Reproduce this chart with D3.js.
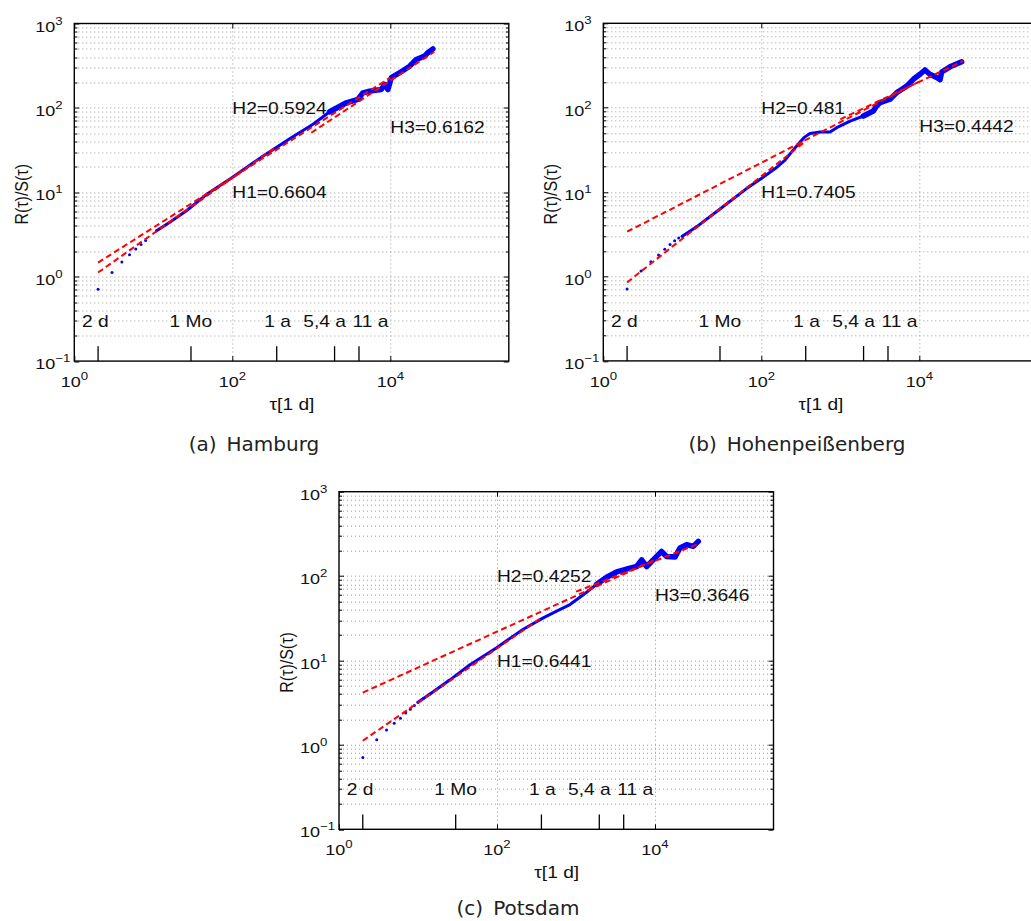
<!DOCTYPE html>
<html>
<head>
<meta charset="utf-8">
<script src="https://cdn.jsdelivr.net/npm/d3@7"></script>
<style>
  html, body { margin: 0; padding: 0; background: #fff; }
  svg { display: block; }
  .lbl { font-family: "Liberation Sans", Arial, sans-serif; fill: #111; }
  .cap { font-family: "DejaVu Sans", sans-serif; fill: #222; }
</style>
</head>
<body>
<svg id="chart" width="1031" height="921"></svg>
<script>
// Rescaled range R/S(τ) for daily series, log–log, three stations.

// τ in days and R/S values per station
const tauHamburg = [2, 3, 4, 5, 6, 7, 8, 11, 16, 26, 47, 102, 246, 533, 713, 1052, 1710, 2780, 3890, 4510, 5470, 7690, 8470, 9330, 10300, 13100, 17600, 21300, 27200, 29900, 34600];
const rsHamburg  = [0.71, 1.12, 1.49, 1.82, 2.13, 2.40, 2.69, 3.5, 4.4, 6.0, 9.4, 15.2, 27, 43, 51, 64, 90, 115, 126, 151, 158, 165, 190, 165, 228, 261, 312, 375, 410, 451, 500];

const tauHohen = [2, 3, 4, 5, 6, 7, 8, 9, 10, 15, 30, 65, 100, 150, 200, 250, 300, 350, 413, 553, 740, 900, 1330, 1960, 2620, 2880, 3180, 4260, 5180, 5700, 6920, 8400, 10200, 11800, 13600, 16600, 18300, 19200, 24500, 34400];
const rsHohen  = [0.71, 1.16, 1.5, 1.8, 2.1, 2.4, 2.65, 2.85, 3.0, 3.85, 6.3, 11.0, 14.5, 19.0, 24.0, 31.0, 38.0, 44.5, 49.5, 51.5, 51.5, 58, 69.5, 79.7, 91.4, 105, 115, 126, 151, 160, 180, 217, 249, 280, 249, 228, 215, 265, 305, 350];

const tauPotsdam = [2, 3, 4, 5, 6, 7, 8, 9, 10, 11.7, 14.2, 25.4, 45.5, 99, 215, 385, 569, 839, 1236, 1828, 2444, 3270, 4830, 5860, 6780, 7850, 10500, 12100, 14000, 17900, 20700, 25200, 30500, 35300];
const rsPotsdam  = [0.71, 1.15, 1.5, 1.81, 2.07, 2.38, 2.65, 2.92, 3.2, 3.55, 4.0, 5.9, 8.9, 14.2, 23.5, 32, 38.5, 46, 60, 80, 97, 112, 124, 130, 156, 130, 171, 196, 171, 168, 215, 236, 225, 258];

// fitted Hurst exponents H1, H2, H3 and their prefactors
const hurstHamburg = [0.6604, 0.5924, 0.6162];
const coefHamburg  = [0.709, 0.975, 0.72];
const hurstHohen   = [0.7405, 0.481, 0.4442];
const coefHohen    = [0.509, 2.43, 3.39];
const hurstPotsdam = [0.6441, 0.4252, 0.3646];
const coefPotsdam  = [0.717, 3.1, 5.27];
// τ range of each fit line
const fitStart = [2, 2, 1000];
const fitEnd   = [365, 10000, 36000];

// time-scale markers
const eventTau    = [2, 30, 365, 1971, 4015];
const eventLabels = ["2 d", "1 Mo", "1 a", "5,4 a", "11 a"];
const eventLabelTau = [1.85, 29.9, 374, 1477, 5600];

// axis ticks
const xTickExp = [0, 2, 4];
const yTickExp = [-1, 0, 1, 2, 3];
const xDomain = [1, Math.pow(10, 5.5)];
const yDomain = [0.1, 1000];

const panels = [
  { id: "a", tag: "(a)", name: "Hamburg", tau: tauHamburg, rs: rsHamburg, H: hurstHamburg, c: coefHamburg,
    left: 74.3, top: 23.5, capX: 254, capY: 451 },
  { id: "b", tag: "(b)", name: "Hohenpeißenberg", tau: tauHohen, rs: rsHohen, H: hurstHohen, c: coefHohen,
    left: 603.3, top: 23.3, capX: 797, capY: 451 },
  { id: "c", tag: "(c)", name: "Potsdam", tau: tauPotsdam, rs: rsPotsdam, H: hurstPotsdam, c: coefPotsdam,
    left: 339, top: 491.7, capX: 518, capY: 915 }
];

const W = 79 * 5.5, H = 84.4 * 4;
const SX = 1.2; // horizontal text stretch

const svg = d3.select("#chart");
svg.append("rect").attr("width", 1031).attr("height", 921).attr("fill", "#fff");

function stretchedText(g, x, y, anchor, size, parts) {
  const t = g.append("text").attr("class", "lbl")
    .attr("transform", `translate(${x},${y}) scale(${SX},1)`)
    .attr("text-anchor", anchor).attr("font-size", size);
  parts.forEach(p => {
    const s = t.append("tspan").text(p.text);
    if (p.sup) s.attr("dy", -7).attr("font-size", 11);
  });
  return t;
}

panels.forEach(p => {
  const g = svg.append("g").attr("transform", `translate(${p.left},${p.top})`);
  const x = d3.scaleLog().domain(xDomain).range([0, W]);
  const y = d3.scaleLog().domain(yDomain).range([H, 0]);

  const clipId = "clip-" + p.id;
  g.append("clipPath").attr("id", clipId).append("rect").attr("width", W).attr("height", H);

  // grid: horizontal at every decade subdivision, vertical at labelled decades
  const minor = [];
  for (let e = -1; e < 3; e++) for (let k = 1; k < 10; k++) minor.push(k * Math.pow(10, e));
  minor.push(1000);
  const grid = g.append("g").attr("stroke", "#9a9a9a").attr("stroke-width", 1)
    .attr("stroke-dasharray", "1,3").attr("fill", "none");
  grid.selectAll("line.h").data(minor.slice(1, -1)).join("line").attr("class", "h")
    .attr("x1", 0).attr("x2", W)
    .attr("y1", d => Math.round(y(d)) + 0.5).attr("y2", d => Math.round(y(d)) + 0.5);
  grid.selectAll("line.v").data(xTickExp.slice(1).map(e => Math.pow(10, e))).join("line").attr("class", "v")
    .attr("y1", 0).attr("y2", H)
    .attr("x1", d => Math.round(x(d)) + 0.5).attr("x2", d => Math.round(x(d)) + 0.5);

  // inward ticks on all four sides
  const ticks = g.append("g").attr("stroke", "#000").attr("stroke-width", 1);
  minor.forEach(v => {
    const lg = Math.log10(v);
    const major = Math.abs(lg - Math.round(lg)) < 1e-9;
    const len = major ? 5 : 3;
    const yy = Math.round(y(v)) + 0.5;
    ticks.append("line").attr("x1", 0).attr("x2", len).attr("y1", yy).attr("y2", yy);
    ticks.append("line").attr("x1", W - len).attr("x2", W).attr("y1", yy).attr("y2", yy);
  });
  xTickExp.forEach(e => {
    const xx = Math.round(x(Math.pow(10, e))) + 0.5;
    ticks.append("line").attr("x1", xx).attr("x2", xx).attr("y1", H).attr("y2", H - 5);
    ticks.append("line").attr("x1", xx).attr("x2", xx).attr("y1", 0).attr("y2", 5);
  });

  // axis frame
  g.append("rect").attr("width", W).attr("height", H).attr("fill", "none")
    .attr("stroke", "#000").attr("stroke-width", 1.4);

  // tick labels
  yTickExp.forEach(e => {
    stretchedText(g, -39, y(Math.pow(10, e)) + 8, "start", 15,
      [{ text: "10" }, { text: e < 0 ? "\u2212" + (-e) : String(e), sup: true }]);
  });
  xTickExp.forEach(e => {
    stretchedText(g, x(Math.pow(10, e)), H + 26, "middle", 15,
      [{ text: "10" }, { text: String(e), sup: true }]);
  });

  // axis titles
  g.append("text").attr("class", "lbl")
    .attr("transform", `translate(${-46},${H / 2 + 2}) rotate(-90) scale(1,${SX})`)
    .attr("text-anchor", "middle").attr("font-size", 16)
    .text("R(\u03C4)/S(\u03C4)");
  stretchedText(g, 217.7, H + 49, "middle", 16, [{ text: "\u03C4[1 d]" }]);

  const plot = g.append("g").attr("clip-path", `url(#${clipId})`);

  // time-scale markers
  plot.selectAll("line.ev").data(eventTau).join("line").attr("class", "ev")
    .attr("x1", d => x(d)).attr("x2", d => x(d))
    .attr("y1", y(0.1)).attr("y2", y(0.15))
    .attr("stroke", "#000").attr("stroke-width", 1.3);
  eventLabels.forEach((s, i) => {
    stretchedText(g, x(eventLabelTau[i]), y(0.3) + 6, "middle", 16, [{ text: s }]);
  });

  // measured R/S
  const pts = p.tau.map((t, i) => [t, p.rs[i]]);
  const line = d3.line().x(d => x(d[0])).y(d => y(d[1]));
  plot.append("path").datum(pts.filter(d => d[0] >= 10))
    .attr("d", line).attr("fill", "none").attr("stroke", "#0000ff")
    .attr("stroke-width", 3).attr("stroke-linejoin", "round").attr("stroke-linecap", "round");
  plot.append("path").datum(pts.filter(d => d[0] >= 1500))
    .attr("d", line).attr("fill", "none").attr("stroke", "#0000ff")
    .attr("stroke-width", 5.5).attr("stroke-linejoin", "round").attr("stroke-linecap", "round");
  plot.selectAll("circle.pt").data(pts.filter(d => d[0] < 16)).join("circle").attr("class", "pt")
    .attr("cx", d => x(d[0])).attr("cy", d => y(d[1])).attr("r", 1.5).attr("fill", "#0000ff");

  // power-law fits R/S = c·τ^H
  p.H.forEach((h, i) => {
    const seg = [fitStart[i], fitEnd[i]].map(t => [t, p.c[i] * Math.pow(t, h)]);
    plot.append("path").datum(seg).attr("d", line)
      .attr("fill", "none").attr("stroke", "#ff0000").attr("stroke-width", 2)
      .attr("stroke-dasharray", "6,3.5");
  });

  // exponent annotations
  const annPos = [[100, 10], [100, 100], [1e4, 60]];
  p.H.forEach((h, i) => {
    stretchedText(g, x(annPos[i][0]), y(annPos[i][1]) + 6, "start", 16, [{ text: `H${i + 1}=${h}` }]);
  });

  // caption
  const cap = svg.append("text").attr("class", "cap")
    .attr("x", p.capX).attr("y", p.capY).attr("text-anchor", "middle").attr("font-size", 20);
  cap.append("tspan").text(p.tag);
  cap.append("tspan").attr("dx", 10).text(p.name);
});
</script>
</body>
</html>
